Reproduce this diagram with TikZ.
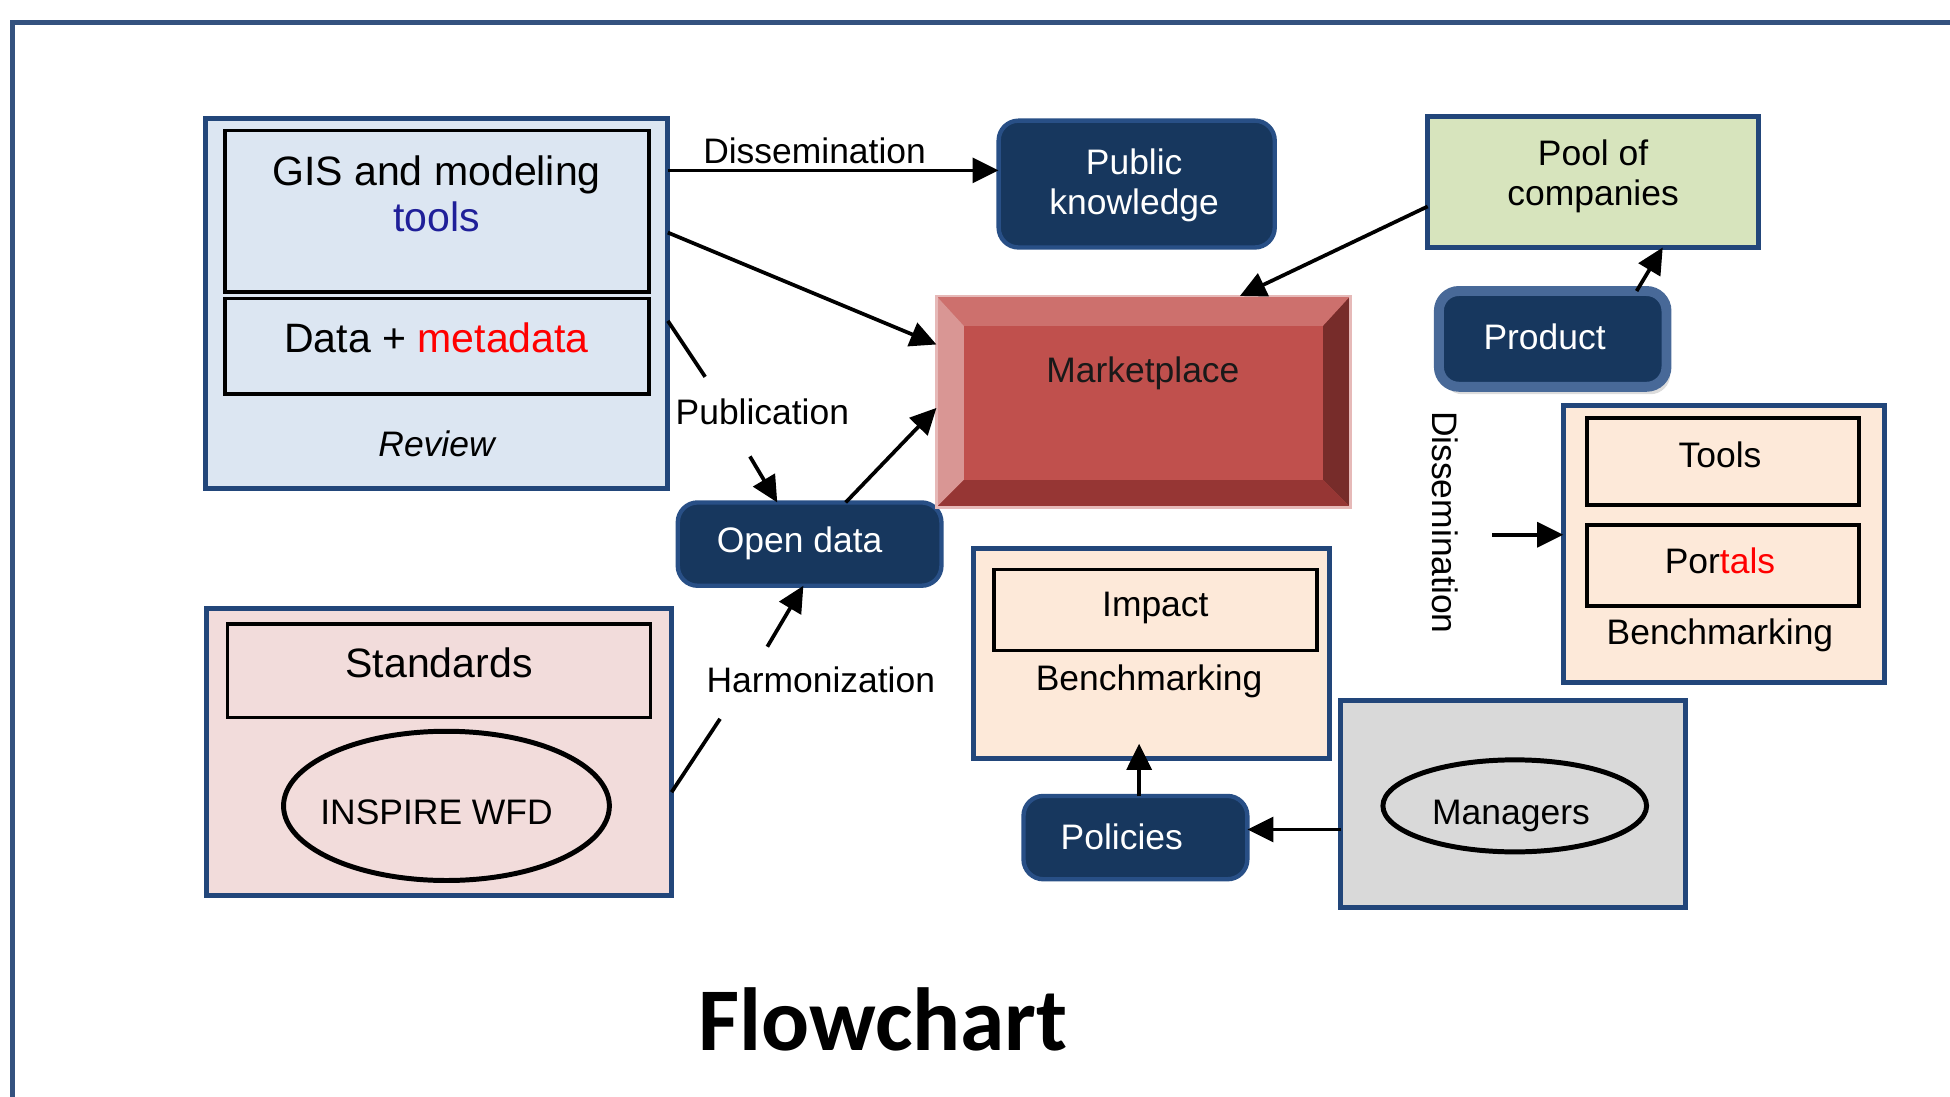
\documentclass[tikz,border=0pt]{standalone}
\usepackage{fontspec}
\setmainfont{Liberation Sans}
\newfontfamily\titlefont{Carlito}
\usetikzlibrary{arrows.meta,calc,shapes.geometric,shadows}

\definecolor{framecol}{HTML}{34527F}
\definecolor{boxline}{HTML}{22467A}
\definecolor{navyfill}{HTML}{17375E}
\definecolor{navyedge}{HTML}{284F86}
\definecolor{bluefill}{HTML}{DCE6F2}
\definecolor{pinkfill}{HTML}{F2DCDB}
\definecolor{peachfill}{HTML}{FDE9D9}
\definecolor{greenfill}{HTML}{D7E4BD}
\definecolor{greyfill}{HTML}{D9D9D9}
\definecolor{toolblue}{HTML}{1F1F99}
\definecolor{mkface}{HTML}{C0504D}
\definecolor{mktop}{HTML}{CD706D}
\definecolor{mkleft}{HTML}{D99694}
\definecolor{mkright}{HTML}{772C2A}
\definecolor{mkbottom}{HTML}{963634}
\definecolor{mkedge}{HTML}{E6B9B8}

\newcommand\lbfont{\fontsize{28.5}{32.5}\selectfont}
\newcommand\bigfont{\fontsize{33}{37}\selectfont}

\begin{document}
\begin{tikzpicture}[x=1pt, y=-1pt,
    outerbox/.style={draw=boxline, line width=4pt, inner sep=0pt, outer sep=0pt},
    innerbox/.style={draw=black, line width=3pt, inner sep=0pt, outer sep=0pt},
    darknode/.style={draw=navyedge, fill=navyfill, line width=3.5pt, rounded corners=16pt,
        inner sep=0pt, outer sep=0pt},
    oval/.style={ellipse, draw=black, line width=4pt, inner sep=0pt, outer sep=0pt},
    lbl/.style={font=\lbfont, inner sep=0pt, align=center},
    arr/.style={line width=3pt, -{Triangle[length=21pt,width=20pt]}},
    plain/.style={line width=3pt}]
    \useasboundingbox (0,0) rectangle (1568,881.4);
    % frame
    \draw[framecol, line width=4pt] (10,895) -- (10,18) -- (1580,18);

    % review block
    \node[outerbox, fill=bluefill, minimum width=372pt, minimum height=298pt] (review) at (351,244) {};
    \node[innerbox, minimum width=341pt, minimum height=130pt] (gis) at (351.5,170) {};
    \node[innerbox, minimum width=341pt, minimum height=77pt] (data) at (351.5,278.5) {};
    \node[lbl, font=\bigfont] (gistext) at (351,156) {GIS and modeling\\\textcolor{toolblue}{tools}};
    \node[lbl, font=\bigfont] (datatext) at (351,272) {Data + \textcolor{red}{metadata}};
    \node[lbl, font=\lbfont\itshape] (revtext) at (351,357) {Review};

    % standards block
    \node[outerbox, fill=pinkfill, minimum width=374pt, minimum height=231pt] (standards) at (353,604.5) {};
    \node[innerbox, minimum width=340pt, minimum height=75pt] (stdbox) at (353,539.5) {};
    \node[lbl, font=\bigfont] (stdtext) at (353,533) {Standards};
    \node[oval, minimum width=262pt, minimum height=120pt] (inspire) at (359,648) {};
    \node[lbl] (insptext) at (351,653) {INSPIRE WFD};

    % dark nodes
    \node[darknode, minimum width=212pt, minimum height=67pt] (opendata) at (651,437.5) {};
    \node[lbl, text=white] (odtext) at (643,437) {Open data};
    \node[darknode, minimum width=222pt, minimum height=102pt] (pubk) at (914,148) {};
    \node[lbl, text=white] (pktext) at (912,149) {Public\\knowledge};
    \node[darknode, minimum width=180pt, minimum height=67pt] (policies) at (913,673.5) {};
    \node[lbl, text=white] (poltext) at (902,673) {Policies};
    \node[darknode, line width=8pt, draw=navyedge!85!white, minimum width=183pt, minimum height=77pt,
        drop shadow={shadow xshift=3pt, shadow yshift=-6pt, fill=gray!55}] (product) at (1248.5,272.5) {};
    \node[lbl, text=white] (prodtext) at (1242,271) {Product};

    % marketplace
    \node[fill=mkface, draw=mkedge, line width=2pt, minimum width=333pt, minimum height=170pt,
        inner sep=0pt, outer sep=0pt] (market) at (919.5,323) {};
    \fill[mktop] (market.north west) -- (market.north east) -- ($(market.north east)+(-22,24)$)
        -- ($(market.north west)+(22,24)$) -- cycle;
    \fill[mkleft] (market.north west) -- ($(market.north west)+(22,24)$)
        -- ($(market.south west)+(22,-22)$) -- (market.south west) -- cycle;
    \fill[mkright] (market.north east) -- ($(market.north east)+(-22,24)$)
        -- ($(market.south east)+(-22,-22)$) -- (market.south east) -- cycle;
    \fill[mkbottom] (market.south west) -- ($(market.south west)+(22,-22)$)
        -- ($(market.south east)+(-22,-22)$) -- (market.south east) -- cycle;
    \draw[mkedge, line width=2pt] (market.north west) rectangle (market.south east);
    \node[lbl, text=black!90] (mktext) at (919,300) {Marketplace};

    % right side
    \node[outerbox, fill=greenfill, minimum width=266pt, minimum height=105pt] (pool) at (1281,146.5) {};
    \node[lbl] (pooltext) at (1281,142) {Pool of\\companies};

    \node[outerbox, fill=peachfill, minimum width=258pt, minimum height=223pt] (portal) at (1386,437.5) {};
    \node[innerbox, minimum width=219pt, minimum height=70pt] (tools) at (1385.5,371) {};
    \node[innerbox, minimum width=219pt, minimum height=65pt] (portals) at (1385.5,454.5) {};
    \node[lbl] (toolstext) at (1383,366) {Tools};
    \node[lbl] (portalstext) at (1383,451) {Por\textcolor{red}{tals}};
    \node[lbl] (bench1) at (1383,511) {Benchmarking};

    \node[outerbox, fill=peachfill, minimum width=286pt, minimum height=169pt] (impactbox) at (926,525.5) {};
    \node[innerbox, minimum width=260pt, minimum height=65pt] (impact) at (929,490.5) {};
    \node[lbl] (impacttext) at (929,489) {Impact};
    \node[lbl] (bench2) at (924,548) {Benchmarking};

    \node[outerbox, fill=greyfill, minimum width=277pt, minimum height=167pt] (managers) at (1216.5,646.5) {};
    \node[oval, minimum width=212pt, minimum height=74pt] (mgr) at (1218,648) {};
    \node[lbl] (mgrtext) at (1215,656) {Managers};

    % labels
    \node[lbl] (diss1) at (655,121) {Dissemination};
    \node[lbl] (pub) at (613,331) {Publication};
    \node[lbl] (harm) at (660,547) {Harmonization};
    \node[lbl, rotate=-90] (diss2) at (1162,420) {Dissemination};

    % connectors
    \draw[arr] (review.east |- 0,137) -- (pubk.west |- 0,137);
    \draw[arr] (review.east |- 0,187) -- (market.west |- 0,277);
    \draw[plain] (review.east |- 0,258) -- (567,303);
    \draw[arr] (603,367) -- (opendata.north -| 625,0);
    \draw[arr] (opendata.north -| 680,0) -- (market.west |- 0,328);
    \draw[plain] (standards.east |- 0,637) -- (579,578);
    \draw[arr] (617,520) -- (opendata.south -| 646,0);
    \draw[arr] (pool.west |- 0,166) -- (market.north -| 997,0);
    \draw[arr] (product.north -| 1316,0) -- (pool.south -| 1337,0);
    \draw[arr] (1200,430) -- (portal.west |- 0,430);
    \draw[arr] (policies.north -| 916,0) -- (916,598);
    \draw[arr] (managers.west |- 0,667) -- (policies.east |- 0,667);

    % title
    \node[font={\titlefont\fontsize{72}{80}\selectfont\bfseries}, inner sep=0pt] (title) at (710,820) {Flowchart};
\end{tikzpicture}
\end{document}
